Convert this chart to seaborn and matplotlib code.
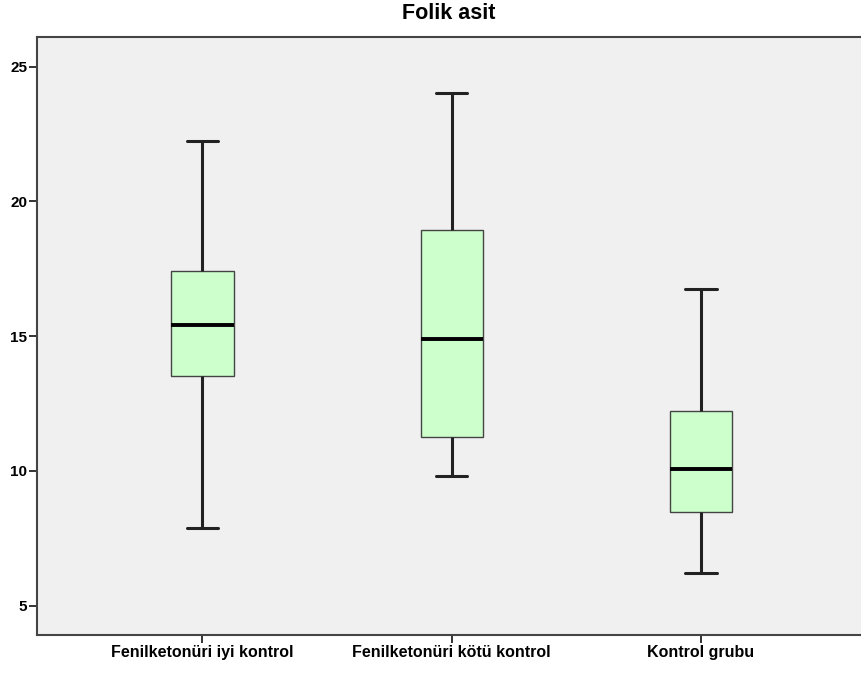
import matplotlib
matplotlib.use("Agg")
import matplotlib.pyplot as plt
import seaborn as sns
import pandas as pd

categories = ["Fenilketonüri iyi kontrol", "Fenilketonüri kötü kontrol", "Kontrol grubu"]
# five-number summaries: min, Q1, median, Q3, max
iyi_kontrol = [7.89, 13.53, 15.40, 17.43, 22.24]
kotu_kontrol = [9.81, 11.26, 14.90, 18.94, 24.01]
kontrol_grubu = [6.20, 8.47, 10.07, 12.22, 16.75]
y_ticks = [5, 10, 15, 20, 25]
title = "Folik asit"

rows = []
for cat, vals in zip(categories, [iyi_kontrol, kotu_kontrol, kontrol_grubu]):
    for v in vals:
        rows.append({"grup": cat, "deger": v})
df = pd.DataFrame(rows)

sns.set_style("white")
plt.rcParams["font.family"] = ["Liberation Sans", "DejaVu Sans"]

fig = plt.figure(figsize=(8.61, 6.73), dpi=100)
ax = fig.add_axes([37 / 861, 1 - 635 / 673, 1 - 37 / 861, (635 - 37) / 673])
ax.set_facecolor("#F0F0F0")

sns.boxplot(
    data=df, x="grup", y="deger", order=categories, ax=ax,
    width=0.25, whis=float("inf"), color="#CCFFCC", saturation=1,
    linecolor="#222222", linewidth=1.2,
    boxprops=dict(edgecolor="#444444", linewidth=1.0),
    whiskerprops=dict(color="#222222", linewidth=2.2),
    capprops=dict(color="#222222", linewidth=2.2),
    medianprops=dict(color="#000000", linewidth=2.8),
)

ax.set_xlim(-0.664, 2.642)
ax.set_ylim(3.91, 26.10)
ax.set_yticks(y_ticks)
ax.set_yticklabels([str(t) for t in y_ticks], fontsize=11, fontweight="bold", color="black")
ax.set_xticks(range(len(categories)))
ax.set_xticklabels(categories, fontsize=11.5, fontweight="bold", color="black")
ax.set_xlabel("")
ax.set_ylabel("")
ax.tick_params(axis="both", direction="out", length=6, width=1.4, color="#333333", pad=1, left=True, bottom=True)
for side in ["left", "top", "bottom"]:
    ax.spines[side].set_visible(True)
    ax.spines[side].set_color("#444444")
    ax.spines[side].set_linewidth(1.5)
ax.spines["right"].set_visible(False)
ax.set_title(title, fontsize=15.5, fontweight="bold", pad=13, color="black")

fig.savefig("out.png", dpi=100, facecolor="white")
